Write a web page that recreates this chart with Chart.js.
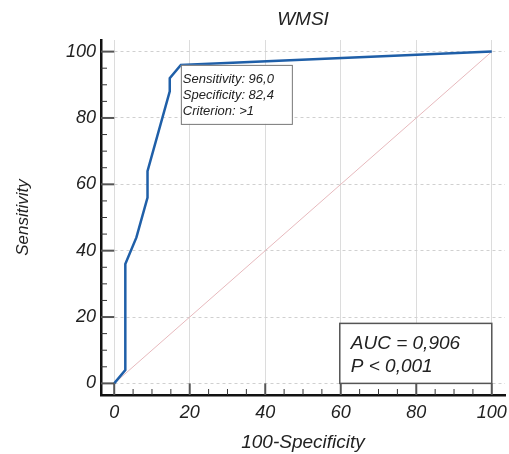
<!DOCTYPE html>
<html>
<head>
<meta charset="utf-8">
<script src="https://cdn.jsdelivr.net/npm/chart.js@4"></script>
<style>
html,body{margin:0;padding:0;background:#fff;}
#wrap{width:509px;height:454px;position:relative;}
</style>
</head>
<body>
<div id="wrap"><canvas id="c" width="509" height="454"></canvas></div>
<script>
// ---- data ----
const chartTitle = 'WMSI';
const xAxisTitle = '100-Specificity';
const yAxisTitle = 'Sensitivity';
const rocFpr = [0, 2.94, 2.94, 5.88, 8.82, 8.82, 14.71, 14.71, 17.65, 100];
const rocTpr = [0, 4, 36, 44, 56, 64, 88, 92, 96, 100];
const refX = [0, 100];
const refY = [0, 100];
const majorTicks = [0, 20, 40, 60, 80, 100];
const minorTicks = [5, 10, 15, 25, 30, 35, 45, 50, 55, 65, 70, 75, 85, 90, 95];
const cutPoint = {x: 17.65, y: 96};
const cutLabels = ['Sensitivity: 96,0', 'Specificity: 82,4', 'Criterion: >1'];
const aucLabels = ['AUC = 0,906', 'P < 0,001'];

const FONT = "'Liberation Sans', Arial, sans-serif";

const rocPts = rocFpr.map((x, i) => ({x, y: rocTpr[i]}));
const refPts = refX.map((x, i) => ({x, y: refY[i]}));

const decor = {
  id: 'decor',
  afterDraw(chart) {
    const ctx = chart.ctx;
    const xs = chart.scales.x, ys = chart.scales.y;
    const ca = chart.chartArea;
    ctx.save();
    // title
    ctx.fillStyle = '#222';
    ctx.font = 'italic 19px ' + FONT;
    ctx.textAlign = 'center';
    ctx.textBaseline = 'middle';
    ctx.fillText(chartTitle, (ca.left + ca.right) / 2, 20);
    // inward tick marks
    const x0 = xs.getPixelForValue(0), y0 = ys.getPixelForValue(0);
    ctx.strokeStyle = '#555';
    ctx.lineWidth = 2;
    majorTicks.forEach(v => {
      const py = ys.getPixelForValue(v);
      ctx.beginPath(); ctx.moveTo(ca.left, py); ctx.lineTo(x0, py); ctx.stroke();
      const px = xs.getPixelForValue(v);
      ctx.beginPath(); ctx.moveTo(px, ca.bottom); ctx.lineTo(px, y0); ctx.stroke();
    });
    ctx.strokeStyle = '#333';
    ctx.lineWidth = 1;
    minorTicks.forEach(v => {
      const py = ys.getPixelForValue(v);
      ctx.beginPath(); ctx.moveTo(ca.left, py); ctx.lineTo(ca.left + 6, py); ctx.stroke();
      const px = xs.getPixelForValue(v);
      ctx.beginPath(); ctx.moveTo(px, ca.bottom); ctx.lineTo(px, ca.bottom - 6); ctx.stroke();
    });
    // cut-point box
    const bx = xs.getPixelForValue(cutPoint.x), by = ys.getPixelForValue(cutPoint.y);
    ctx.fillStyle = '#fff';
    ctx.fillRect(bx, by, 111, 59);
    ctx.strokeStyle = '#777';
    ctx.lineWidth = 1;
    ctx.strokeRect(bx + 0.5, by + 0.5, 111, 59);
    ctx.fillStyle = '#222';
    ctx.font = 'italic 13px ' + FONT;
    ctx.textAlign = 'left';
    cutLabels.forEach((t, i) => ctx.fillText(t, bx + 2, by + 15 + i * 16));
    // AUC box
    const ax = xs.getPixelForValue(100), ay = ys.getPixelForValue(0);
    ctx.fillStyle = '#fff';
    ctx.fillRect(ax - 152, ay - 60, 152, 60);
    ctx.strokeStyle = '#555';
    ctx.lineWidth = 1.5;
    ctx.strokeRect(ax - 152, ay - 60, 152, 60);
    ctx.fillStyle = '#222';
    ctx.font = 'italic 19px ' + FONT;
    aucLabels.forEach((t, i) => ctx.fillText(t, ax - 141, ay - 40 + i * 23));
    ctx.restore();
  }
};

new Chart(document.getElementById('c'), {
  type: 'scatter',
  data: {
    datasets: [
      {data: rocPts, showLine: true, borderColor: '#1f5fa8', borderWidth: 2.5, pointRadius: 0, tension: 0},
      {data: refPts, showLine: true, borderColor: '#e7b9bd', borderWidth: 1, pointRadius: 0, tension: 0}
    ]
  },
  options: {
    responsive: false,
    animation: false,
    events: [],
    layout: {padding: {left: 0, right: 4, top: 40, bottom: 0}},
    plugins: {legend: {display: false}, tooltip: {enabled: false}, title: {display: false}},
    scales: {
      x: {
        type: 'linear', min: -3.5, max: 103.5,
        afterBuildTicks: s => { s.ticks = majorTicks.map(v => ({value: v})); },
        afterFit: s => { s.height = 59; s.paddingLeft = 0; s.paddingRight = 0; },
        ticks: {padding: 7, color: '#222', font: {family: FONT, size: 18, style: 'italic'}},
        grid: {color: '#dcdcdc', lineWidth: 1, drawTicks: false},
        border: {display: true, color: '#111', width: 2.5},
        title: {display: true, text: xAxisTitle, color: '#222', padding: {top: 0, bottom: 0},
                font: {family: FONT, size: 19, style: 'italic'}}
      },
      y: {
        type: 'linear', min: -3.5, max: 103.5,
        afterBuildTicks: s => { s.ticks = majorTicks.map(v => ({value: v})); },
        afterFit: s => { s.width = 101; s.paddingTop = 0; s.paddingBottom = 0; },
        ticks: {padding: 5, color: '#222', font: {family: FONT, size: 18, style: 'italic'}},
        grid: {color: '#d0d0d0', lineWidth: 1, drawTicks: false},
        border: {display: true, color: '#111', width: 2.5, dash: [3, 3]},
        title: {display: true, text: yAxisTitle, color: '#222', padding: {top: 13, bottom: 0},
                font: {family: FONT, size: 17, style: 'italic'}}
      }
    }
  },
  plugins: [decor]
});
</script>
</body>
</html>
